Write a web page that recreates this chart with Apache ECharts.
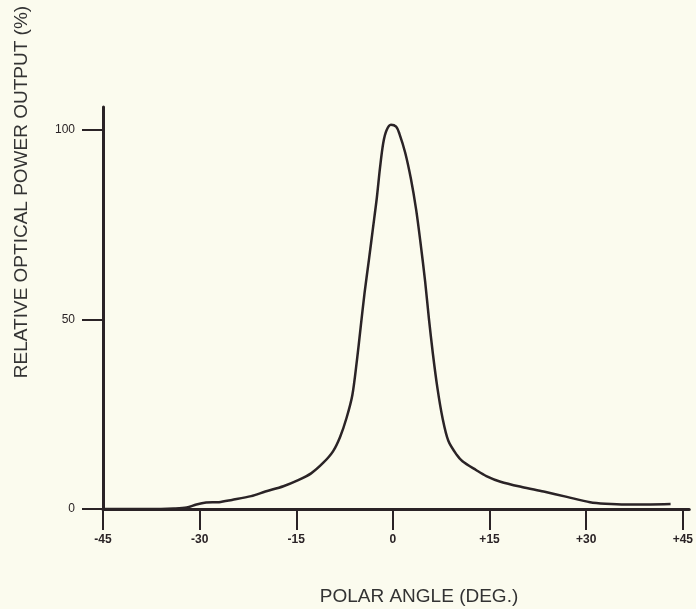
<!DOCTYPE html>
<html>
<head>
<meta charset="utf-8">
<script src="https://cdn.jsdelivr.net/npm/echarts@6.0.0/dist/echarts.min.js"></script>
<style>
    html, body { margin: 0; padding: 0; background: #fbfbee; }
    #chart { width: 696px; height: 609px; }
</style>
</head>
<body>
<div id="chart"></div>
<script>
// polar angle (deg.) and relative optical power output (%)
const angles = [
    -45, -36, -34, -32, -30.5, -29, -27, -25, -22, -19.8, -17, -14.7, -12.7, -10.8,
    -9.3, -8.2, -7.2, -6.3, -5.6, -5.0, -4.4, -3.7, -3.1, -2.5, -2.0, -1.5, -1.0, -0.3,
    0.5, 1.0, 1.9, 2.8, 3.6, 4.3, 5.0, 5.6, 6.2, 6.9, 7.7, 8.6, 9.9, 10.8, 12.9,
    14.5, 16.7, 20, 23.4, 27, 30.6, 33, 36.2, 40, 43.1,
];
const power = [
    0, 0, 0.1, 0.4, 1.2, 1.7, 1.8, 2.4, 3.4, 4.6, 6.0, 7.6, 9.4, 12.2,
    15.2, 19, 24, 30, 39, 48, 57, 66, 74, 82, 90, 96.5, 99.8, 101.3,
    100.8, 99, 94, 87, 79, 70, 60, 50, 41, 32, 24, 18, 14.3, 12.6, 10.3,
    8.7, 7.2, 5.8, 4.6, 3.2, 1.8, 1.4, 1.2, 1.2, 1.3,
];
const xTicks = [-45, -30, -15, 0, 15, 30, 45];
const yTicks = [0, 50, 100];

const ink = "#2a2326";

function angleLabel(value) {
    if (value < 0) return "-" + Math.abs(value);
    if (value > 0) return "+" + value;
    return "0";
}

function createChart() {
    let chartDom = document.getElementById("chart");
    let myChart = echarts.init(chartDom, null, { renderer: "canvas" });

    let data = angles.map((a, i) => [a, power[i]]);

    let option = {
        backgroundColor: "#fbfbee",
        animation: false,
        grid: { left: 103, right: 0, top: 107, bottom: 100 },
        xAxis: {
            type: "value",
            min: -45,
            max: 46,
            axisLine: { show: true, onZero: false, lineStyle: { color: ink, width: 3 } },
            axisTick: {
                show: true,
                customValues: xTicks,
                length: 21,
                lineStyle: { color: ink, width: 2 },
            },
            axisLabel: {
                customValues: xTicks,
                formatter: angleLabel,
                margin: 25,
                color: ink,
                fontSize: 12,
                fontWeight: "bold",
                fontFamily: "Liberation Sans, Arial, sans-serif",
            },
            splitLine: { show: false },
        },
        yAxis: {
            type: "value",
            min: 0,
            max: 106,
            axisLine: { show: true, onZero: false, lineStyle: { color: ink, width: 3 } },
            axisTick: {
                show: true,
                customValues: yTicks,
                length: 21,
                lineStyle: { color: ink, width: 2 },
            },
            axisLabel: {
                customValues: yTicks,
                margin: 28,
                color: ink,
                fontSize: 12,
                fontFamily: "Liberation Sans, Arial, sans-serif",
            },
            splitLine: { show: false },
        },
        graphic: [
            {
                type: "text",
                x: 22,
                y: 192,
                rotation: Math.PI / 2,
                style: {
                    text: "RELATIVE OPTICAL POWER OUTPUT (%)",
                    fill: "#333",
                    font: "19px Liberation Sans, Arial, sans-serif",
                    align: "center",
                    verticalAlign: "middle",
                },
            },
            {
                type: "text",
                x: 419,
                y: 597,
                style: {
                    text: "POLAR ANGLE (DEG.)",
                    fill: "#333",
                    font: "19px Liberation Sans, Arial, sans-serif",
                    align: "center",
                    verticalAlign: "middle",
                },
            },
        ],
        series: [
            {
                type: "line",
                data,
                smooth: 0.3,
                showSymbol: false,
                lineStyle: { color: ink, width: 2.5 },
            },
        ],
    };

    option && myChart.setOption(option);
}

createChart();
</script>
</body>
</html>
